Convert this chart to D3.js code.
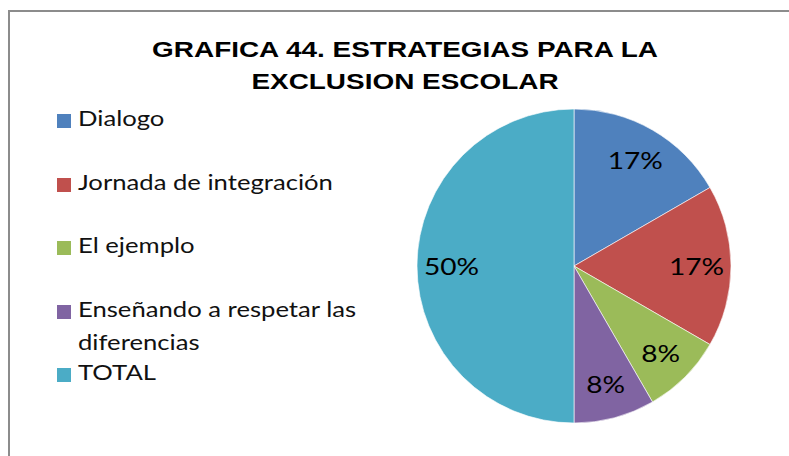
<!DOCTYPE html>
<html>
<head>
<meta charset="utf-8">
<script src="https://cdn.jsdelivr.net/npm/d3@7"></script>
<style>
  html, body { margin: 0; padding: 0; background: #fff; }
  svg { display: block; }
</style>
</head>
<body>
<svg id="chart" width="789" height="456"></svg>
<script>
// Strategy categories and response counts
const categories = ["Dialogo", "Jornada de integración", "El ejemplo", "Enseñando a respetar las diferencias", "TOTAL"];
const values = [2, 2, 1, 1, 6];
const colors = ["#4F81BD", "#C0504D", "#9BBB59", "#8064A2", "#4BACC6"];
const titleLines = ["GRAFICA 44. ESTRATEGIAS PARA LA", "EXCLUSION ESCOLAR"];
// Legend entries, with the long one wrapped onto two lines
const legendLines = [["Dialogo"], ["Jornada de integración"], ["El ejemplo"], ["Enseñando a respetar las", "diferencias"], ["TOTAL"]];

const svg = d3.select("#chart");
const W = 789, H = 456;

// Widen a text element horizontally about its anchor x
function widen(sel, x, sx) {
  sel.attr("transform", `translate(${x},0) scale(${sx},1) translate(${-x},0)`);
}

// Chart frame
svg.append("rect")
  .attr("x", 9).attr("y", 11)
  .attr("width", W + 20).attr("height", H + 20)
  .attr("fill", "#fff")
  .attr("stroke", "#8c8c8c").attr("stroke-width", 2);

// Title
const titleX = 405;
const titleTexts = titleLines.map((t, i) => svg.append("text")
  .attr("x", titleX)
  .attr("y", 57 + i * 32)
  .attr("text-anchor", "middle")
  .attr("font-family", "'Liberation Sans', Arial, sans-serif")
  .attr("font-weight", "bold")
  .attr("font-size", 23)
  .attr("fill", "#000")
  .text(t));
const titleSx = 506 / titleTexts[0].node().getComputedTextLength();
titleTexts.forEach(s => widen(s, titleX, titleSx));

// Legend
const legendFont = "Lato, 'Open Sans', sans-serif";
const baselines = [126, 190, 253, 317, 380];
const lg = svg.append("g");
const legendTexts = [];
legendLines.forEach((lines, i) => {
  const yb = baselines[i];
  lg.append("rect")
    .attr("x", 57).attr("y", yb - 12)
    .attr("width", 14).attr("height", 14)
    .attr("fill", colors[i]);
  lines.forEach((t, j) => {
    legendTexts.push(lg.append("text")
      .attr("x", 78).attr("y", yb + j * 33)
      .attr("font-family", legendFont)
      .attr("font-size", 21)
      .attr("fill", "#111")
      .text(t));
  });
});
const textSx = 255 / legendTexts[1].node().getComputedTextLength();
legendTexts.forEach(s => widen(s, 78, textSx));

// Pie
const cx = 574, cy = 266, r = 157;
const total = d3.sum(values);
const pie = d3.pie().sort(null).value(d => d.v);
const arcs = pie(values.map((v, i) => ({ v, i })));
const arc = d3.arc().innerRadius(0).outerRadius(r);
const labelArc = d3.arc().innerRadius(r * 0.78).outerRadius(r * 0.78);

const g = svg.append("g").attr("transform", `translate(${cx},${cy})`);
g.selectAll("path").data(arcs).join("path")
  .attr("d", arc)
  .attr("fill", d => colors[d.data.i])
  .attr("stroke", "#ffffff")
  .attr("stroke-opacity", 0.6)
  .attr("stroke-width", 1);

g.selectAll("g.lbl").data(arcs).join("g")
  .attr("class", "lbl")
  .attr("transform", d => `translate(${labelArc.centroid(d)})`)
  .append("text")
  .attr("text-anchor", "middle")
  .attr("dominant-baseline", "central")
  .attr("font-family", legendFont)
  .attr("font-size", 23)
  .attr("fill", "#000")
  .attr("transform", `scale(${textSx},1)`)
  .text(d => d3.format(".0%")(d.data.v / total));
</script>
</body>
</html>
